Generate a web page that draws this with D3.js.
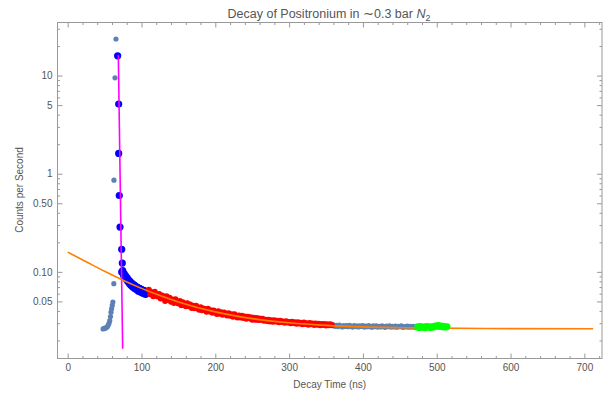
<!DOCTYPE html>
<html>
<head>
<meta charset="utf-8">
<script src="https://cdn.jsdelivr.net/npm/d3@7"></script>
<style>
  body { margin: 0; background: #fff; }
  svg { display: block; font-family: "Liberation Sans", Arial, sans-serif; }
  .tick text { fill: #555; font-size: 10px; }
  .tick line { stroke: #999; }
</style>
</head>
<body>
<svg id="chart" width="605" height="393"></svg>
<script>
// axis ticks
const xMajorTicks = [0, 100, 200, 300, 400, 500, 600, 700];
const xMinorTicks = [20, 40, 60, 80, 120, 140, 160, 180, 220, 240, 260, 280, 320, 340, 360, 380,
  420, 440, 460, 480, 520, 540, 560, 580, 620, 640, 660, 680, 720];
const yMajorTicks = [0.05, 0.1, 0.5, 1, 5, 10];
const yTickLabels = ['0.05', '0.10', '0.50', '1', '5', '10'];
const yMinorTicks = [0.02, 0.03, 0.04, 0.06, 0.07, 0.08, 0.09, 0.2, 0.3, 0.4, 0.6, 0.7, 0.8, 0.9,
  2, 3, 4, 6, 7, 8, 9, 20, 30];

// raw spectrum before the peak (steel blue)
const rawTimes = [48.0, 49.5, 51.0, 52.5, 54.0, 55.0, 56.0, 57.0, 58.0, 58.7, 59.5, 60.4, 61.2, 62.5, 62.7, 64.1, 65.4];
const rawCounts = [0.0262, 0.0265, 0.0267, 0.0271, 0.0277, 0.0287, 0.0299, 0.0318, 0.0350, 0.0388, 0.0420,
  0.0455, 0.0492, 0.0758, 0.86, 9.5, 23.6];

// raw spectrum tail between the fit regions (steel blue)
const tailTimes = d3.range(360, 473, 2);
const tailCounts = [0.0288, 0.0279, 0.0285, 0.0277, 0.0286, 0.0280, 0.0275, 0.0284, 0.0278, 0.0283,
  0.0276, 0.0285, 0.0279, 0.0274, 0.0283, 0.0277, 0.0282, 0.0275, 0.0281, 0.0278, 0.0284, 0.0274,
  0.0280, 0.0276, 0.0283, 0.0277, 0.0273, 0.0281, 0.0276, 0.0282, 0.0274, 0.0279, 0.0275, 0.0281,
  0.0277, 0.0272, 0.0280, 0.0276, 0.0282, 0.0274, 0.0279, 0.0275, 0.0280, 0.0273, 0.0278, 0.0276,
  0.0281, 0.0272, 0.0277, 0.0275, 0.0280, 0.0273, 0.0278, 0.0274, 0.0279, 0.0272, 0.0277];

// peak region used for the fast fit (blue)
const peakTimes = [67.7, 69.1, 69.1, 69.9, 70.9, 73.2, 74.0, 73.2,
  74, 75, 76, 77, 78, 79, 80, 81, 82, 83, 84, 85, 86, 87, 88, 89, 90, 91, 92, 93, 94, 95, 96, 97,
  98, 99, 100, 101, 102, 103, 104, 105, 106, 107,
  74.5, 75.5, 76.5, 77.5, 78.5, 79.5, 80.5, 81.5, 82.5, 83.5, 84.5, 85.5, 86.5, 87.5, 88.5, 89.5,
  90.5, 91.5, 92.5, 93.5, 94.5, 95.5, 96.5, 97.5, 98.5, 99.5, 100.5, 101.5, 102.5, 103.5, 104.5,
  105.5, 106.5];
const peakCounts = [15.9, 5.12, 1.61, 0.60, 0.286, 0.170, 0.123, 0.0995,
  0.100, 0.097, 0.094, 0.092, 0.089, 0.088, 0.085, 0.084, 0.081, 0.080, 0.078, 0.077, 0.075, 0.0755,
  0.073, 0.0735, 0.071, 0.072, 0.069, 0.070, 0.067, 0.069, 0.066, 0.068, 0.065, 0.066, 0.063, 0.065,
  0.062, 0.064, 0.061, 0.063, 0.060, 0.062,
  0.103, 0.093, 0.096, 0.088, 0.091, 0.084, 0.087, 0.080, 0.083, 0.076, 0.080, 0.073, 0.077, 0.071,
  0.075, 0.069, 0.073, 0.067, 0.071, 0.066, 0.069, 0.064, 0.068, 0.063, 0.067, 0.062, 0.066, 0.061,
  0.065, 0.060, 0.064, 0.059, 0.063];

// slow decay region (red)
const decayTimes = d3.range(110, 359, 2);
const decayCounts = [0.0657, 0.0592, 0.0621, 0.0565, 0.0629, 0.0579, 0.0561, 0.0594, 0.0536, 0.0574,
  0.0550, 0.0505, 0.0564, 0.0519, 0.0545, 0.0497, 0.0522, 0.0481, 0.0526, 0.0490, 0.0475, 0.0504,
  0.0456, 0.0489, 0.0470, 0.0446, 0.0478, 0.0446, 0.0465, 0.0429, 0.0452, 0.0426, 0.0452, 0.0427,
  0.0410, 0.0436, 0.0407, 0.0424, 0.0413, 0.0393, 0.0422, 0.0394, 0.0407, 0.0384, 0.0405, 0.0386,
  0.0372, 0.0397, 0.0374, 0.0388, 0.0366, 0.0386, 0.0372, 0.0359, 0.0378, 0.0358, 0.0369, 0.0349,
  0.0369, 0.0352, 0.0343, 0.0359, 0.0343, 0.0358, 0.0339, 0.0351, 0.0333, 0.0348, 0.0336, 0.0345,
  0.0326, 0.0341, 0.0326, 0.0338, 0.0323, 0.0335, 0.0324, 0.0332, 0.0318, 0.0326, 0.0316, 0.0326,
  0.0313, 0.0321, 0.0311, 0.0322, 0.0312, 0.0317, 0.0307, 0.0318, 0.0308, 0.0313, 0.0303, 0.0314,
  0.0304, 0.0309, 0.0299, 0.0311, 0.0301, 0.0306, 0.0296, 0.0307, 0.0298, 0.0303, 0.0293, 0.0305,
  0.0295, 0.0300, 0.0290, 0.0302, 0.0292, 0.0298, 0.0288, 0.0297, 0.0290, 0.0296, 0.0286, 0.0295,
  0.0288, 0.0294, 0.0284, 0.0293, 0.0286, 0.0292, 0.0285];

// background region (green)
const bgTimes = d3.range(474, 515, 2);
const bgCounts = [0.0276, 0.0270, 0.0279, 0.0272, 0.0275, 0.0269, 0.0278, 0.0273, 0.0276, 0.0270,
  0.0277, 0.0274, 0.0281, 0.0279, 0.0284, 0.0277, 0.0282, 0.0275, 0.0279, 0.0273, 0.0277];

// fitted curves
const fastFitTimes = [68.6, 74.5];
const fastFitCounts = [16.2, 0.01645];
const slowFitTimes = [0, 25, 50, 75, 100, 125, 150, 200, 250, 300, 350, 400, 450, 500, 600, 712];
const slowFitCounts = [0.159, 0.1269, 0.1013, 0.0822, 0.0679, 0.0573, 0.0494, 0.0391, 0.0334, 0.0303,
  0.0285, 0.0275, 0.0270, 0.0267, 0.0264, 0.0263];

const frameLeft = 57.5, frameRight = 602, frameTop = 22.5, frameBottom = 358.5;
const svg = d3.select('#chart');

const x = d3.scaleLinear().domain([-13.8, 723.9]).range([frameLeft, frameRight]);
const y = d3.scaleLog().domain([0.0131, 34.75]).range([frameBottom, frameTop]);

const zip = (ts, vs) => ts.map((t, i) => [t, vs[i]]);

// minor ticks first, then labelled ones
svg.append('g').attr('transform', `translate(0,${frameBottom})`)
  .call(d3.axisBottom(x).tickValues(xMinorTicks).tickSize(-2.5).tickFormat(''));
svg.append('g').attr('transform', `translate(0,${frameBottom})`)
  .call(d3.axisBottom(x).tickValues(xMajorTicks).tickSize(-5).tickPadding(5));
svg.append('g').attr('transform', `translate(0,${frameTop})`)
  .call(d3.axisTop(x).tickValues(xMinorTicks).tickSize(-2.5).tickFormat(''));
svg.append('g').attr('transform', `translate(0,${frameTop})`)
  .call(d3.axisTop(x).tickValues(xMajorTicks).tickSize(-5).tickFormat(''));

svg.append('g').attr('transform', `translate(${frameLeft},0)`)
  .call(d3.axisLeft(y).tickValues(yMinorTicks).tickSize(-2.5).tickFormat(''));
svg.append('g').attr('transform', `translate(${frameLeft},0)`)
  .call(d3.axisLeft(y).tickValues(yMajorTicks).tickSize(-5).tickPadding(5)
    .tickFormat((d, i) => yTickLabels[i]));
svg.append('g').attr('transform', `translate(${frameRight},0)`)
  .call(d3.axisRight(y).tickValues(yMinorTicks).tickSize(-2.5).tickFormat(''));
svg.append('g').attr('transform', `translate(${frameRight},0)`)
  .call(d3.axisRight(y).tickValues(yMajorTicks).tickSize(-5).tickFormat(''));

svg.selectAll('.domain').remove();

svg.append('rect')
  .attr('x', frameLeft).attr('y', frameTop)
  .attr('width', frameRight - frameLeft).attr('height', frameBottom - frameTop)
  .attr('fill', 'none').attr('stroke', '#999');

svg.append('clipPath').attr('id', 'plotClip')
  .append('rect')
    .attr('x', frameLeft).attr('y', frameTop)
    .attr('width', frameRight - frameLeft).attr('height', frameBottom - frameTop);

const plot = svg.append('g').attr('clip-path', 'url(#plotClip)');

function dots(data, color, r) {
  plot.append('g').selectAll('circle')
    .data(data)
    .join('circle')
      .attr('cx', d => x(d[0]))
      .attr('cy', d => y(d[1]))
      .attr('r', r)
      .attr('fill', color);
}

const line = d3.line()
  .x(d => x(d[0]))
  .y(d => y(d[1]))
  .curve(d3.curveMonotoneX);

dots(zip(rawTimes, rawCounts), '#5E81B5', 2.6);
dots(zip(tailTimes, tailCounts), '#5E81B5', 2.6);
dots(zip(peakTimes, peakCounts), '#0000FF', 3.6);
dots(zip(decayTimes, decayCounts), '#FF0000', 3);

plot.append('path')
  .datum(zip(fastFitTimes, fastFitCounts))
  .attr('d', line)
  .attr('fill', 'none')
  .attr('stroke', '#FF00FF')
  .attr('stroke-width', 1.6);

plot.append('path')
  .datum(zip(slowFitTimes, slowFitCounts))
  .attr('d', line)
  .attr('fill', 'none')
  .attr('stroke', '#FF8000')
  .attr('stroke-width', 1.6);

dots(zip(bgTimes, bgCounts), '#00FF00', 3.4);

// title and axis labels
const title = svg.append('text')
  .attr('x', 329).attr('y', 17.5)
  .attr('text-anchor', 'middle')
  .attr('fill', '#555')
  .style('font-size', '12.5px');
title.append('tspan').text('Decay of Positronium in \u223C0.3 bar ');
title.append('tspan').attr('font-style', 'italic').text('N');
title.append('tspan').attr('dy', 3).style('font-size', '9px').text('2');

svg.append('text')
  .attr('x', (frameLeft + frameRight) / 2).attr('y', 388)
  .attr('text-anchor', 'middle')
  .attr('fill', '#555')
  .style('font-size', '10px')
  .text('Decay Time (ns)');

svg.append('text')
  .attr('transform', 'translate(23,190) rotate(-90)')
  .attr('text-anchor', 'middle')
  .attr('fill', '#555')
  .style('font-size', '10px')
  .text('Counts per Second');
</script>
</body>
</html>
